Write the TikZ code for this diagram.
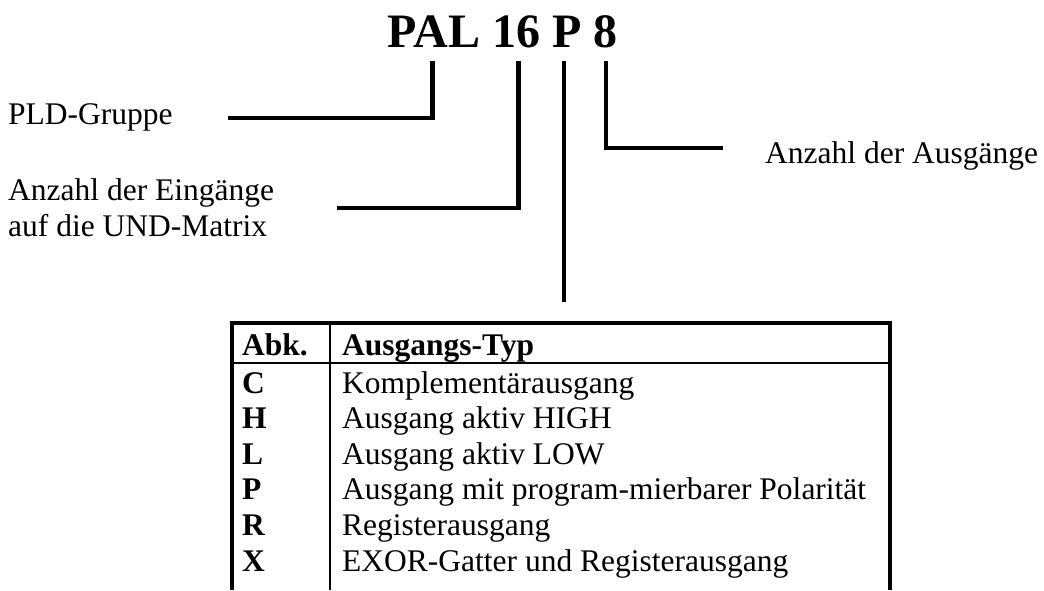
\documentclass[tikz,border=0pt]{standalone}
\usepackage{fontspec}
\setmainfont{Liberation Serif}
\begin{document}
\begin{tikzpicture}[x=1pt,y=-1pt,
  txt/.style={anchor=base west,inner sep=0pt,font=\fontsize{31.5}{36}\selectfont},
  hd/.style={txt,font=\bfseries\fontsize{31.5}{36}\selectfont},
  lead/.style={line width=4.5pt},
  outer/.style={line width=4pt,miter limit=10},
  rule/.style={line width=2pt}]
\useasboundingbox (0,0) rectangle (1044,590);
% title
\node[anchor=base,inner sep=0pt,font=\bfseries\fontsize{48}{56}\selectfont] (title) at (502.5,47) {PAL 16 P 8};
% labels
\node[txt] (pld) at (8,124) {PLD-Gruppe};
\node[txt] (ein1) at (8,200) {Anzahl der Eingänge};
\node[txt] (ein2) at (8,236.5) {auf die UND-Matrix};
\node[txt] (aus) at (765,163) {Anzahl der Ausgänge};
% connector coordinates
\coordinate (tPAL) at (432.7,61);
\coordinate (t16) at (518.5,61);
\coordinate (tP) at (564,61);
\coordinate (t8) at (606,61);
\coordinate (ePAL) at (228,118);
\coordinate (e16) at (337,208);
\coordinate (eP) at (564,302);
\coordinate (e8) at (723,148);
\draw[lead] (tPAL) |- (ePAL);
\draw[lead] (t16) |- (e16);
\draw[lead] (tP) -- (eP);
\draw[lead] (t8) |- (e8);
% table
\draw[rule] (232,363) -- (890,363);
\draw[rule] (330,323) -- (330,590);
\draw[outer] (232,590) -- (232,323) -- (890,323) -- (890,590);
\node[hd] (h1) at (242,355) {Abk.};
\node[hd] (h2) at (342,355) {Ausgangs-Typ};
\node[hd] (kC) at (242,393) {C};
\node[txt] (vC) at (342,393) {Komplementärausgang};
\node[hd] (kH) at (242,428.5) {H};
\node[txt] (vH) at (342,428.5) {Ausgang aktiv HIGH};
\node[hd] (kL) at (242,464) {L};
\node[txt] (vL) at (342,464) {Ausgang aktiv LOW};
\node[hd] (kP) at (242,499.5) {P};
\node[txt] (vP) at (342,499.5) {Ausgang mit program-mierbarer Polarität};
\node[hd] (kR) at (242,535) {R};
\node[txt] (vR) at (342,535) {Registerausgang};
\node[hd] (kX) at (242,571) {X};
\node[txt] (vX) at (342,571) {EXOR-Gatter und Registerausgang};
\end{tikzpicture}
\end{document}
